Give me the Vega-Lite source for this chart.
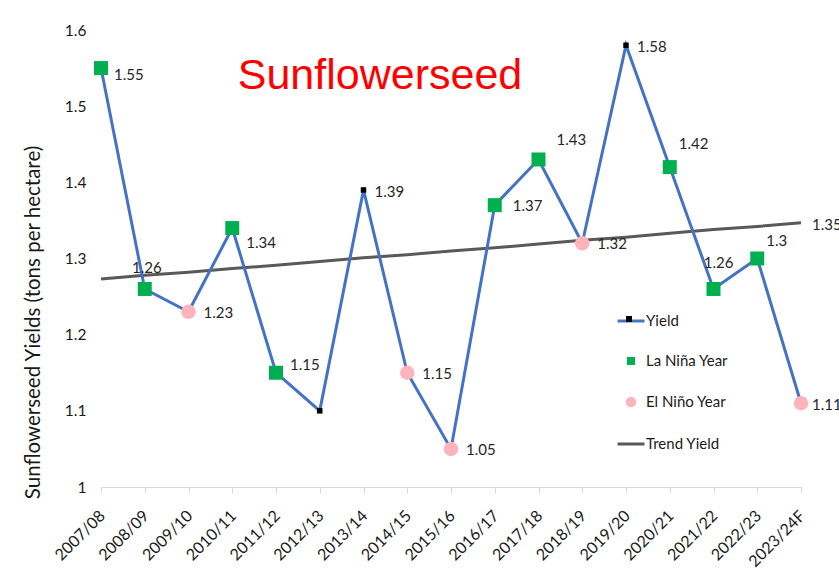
{
  "$schema": "https://vega.github.io/schema/vega-lite/v6.json",
  "width": 700,
  "height": 457,
  "autosize": {"type": "none"},
  "padding": {"left": 101, "top": 30, "right": 38, "bottom": 85},
  "background": "white",
  "config": {
    "view": {"stroke": null},
    "font": "Lato"
  },
  "title": {
    "text": "Sunflowerseed",
    "font": "Liberation Sans",
    "fontSize": 43,
    "fontWeight": "normal",
    "color": "#FF0000",
    "anchor": "middle",
    "frame": "group",
    "baseline": "alphabetic",
    "offset": 0,
    "dx": -71,
    "dy": 109
  },
  "data": {
    "values": [
      {"year": "2007/08", "yield": 1.55, "trend": 1.273, "enso": "La Niña Year"},
      {"year": "2008/09", "yield": 1.26, "trend": 1.278, "enso": "La Niña Year"},
      {"year": "2009/10", "yield": 1.23, "trend": 1.282, "enso": "El Niño Year"},
      {"year": "2010/11", "yield": 1.34, "trend": 1.287, "enso": "La Niña Year"},
      {"year": "2011/12", "yield": 1.15, "trend": 1.291, "enso": "La Niña Year"},
      {"year": "2012/13", "yield": 1.10, "trend": 1.296, "enso": "Neutral"},
      {"year": "2013/14", "yield": 1.39, "trend": 1.301, "enso": "Neutral"},
      {"year": "2014/15", "yield": 1.15, "trend": 1.305, "enso": "El Niño Year"},
      {"year": "2015/16", "yield": 1.05, "trend": 1.310, "enso": "El Niño Year"},
      {"year": "2016/17", "yield": 1.37, "trend": 1.314, "enso": "La Niña Year"},
      {"year": "2017/18", "yield": 1.43, "trend": 1.319, "enso": "La Niña Year"},
      {"year": "2018/19", "yield": 1.32, "trend": 1.324, "enso": "El Niño Year"},
      {"year": "2019/20", "yield": 1.58, "trend": 1.328, "enso": "Neutral"},
      {"year": "2020/21", "yield": 1.42, "trend": 1.333, "enso": "La Niña Year"},
      {"year": "2021/22", "yield": 1.26, "trend": 1.338, "enso": "La Niña Year"},
      {"year": "2022/23", "yield": 1.30, "trend": 1.342, "enso": "La Niña Year"},
      {"year": "2023/24F", "yield": 1.11, "trend": 1.347, "enso": "El Niño Year"}
    ]
  },
  "encoding": {
    "x": {
      "field": "year",
      "type": "ordinal",
      "scale": {
        "type": "point",
        "padding": 0,
        "domain": ["2007/08", "2008/09", "2009/10", "2010/11", "2011/12", "2012/13", "2013/14", "2014/15", "2015/16", "2016/17", "2017/18", "2018/19", "2019/20", "2020/21", "2021/22", "2022/23", "2023/24F"]
      },
      "axis": {
        "title": null,
        "labelAngle": -45,
        "labelAlign": "right",
        "labelBaseline": "middle",
        "labelFont": "Lato",
        "labelFontSize": 16,
        "labelColor": "#1a1a1a",
        "labelPadding": 20,
        "labelOffset": 1,
        "tickColor": "#D9D9D9",
        "tickSize": 6,
        "domainColor": "#D9D9D9",
        "domainWidth": 1,
        "grid": false
      }
    }
  },
  "layer": [
    {
      "mark": {"type": "rule", "color": "white", "strokeWidth": 3},
      "encoding": {
        "x": {"datum": "2009/10"},
        "x2": {"datum": "2017/18"},
        "y": {"datum": 1.5, "type": "quantitative"}
      }
    },
    {
      "mark": {"type": "line", "strokeWidth": 3},
      "encoding": {
        "y": {
          "field": "trend",
          "type": "quantitative",
          "scale": {"domain": [1, 1.6], "nice": false, "zero": false},
          "axis": {
            "title": "Sunflowerseed Yields (tons per hectare)",
            "titleFont": "Lato",
            "titleFontSize": 20.5,
            "titleFontWeight": "normal",
            "titleColor": "#1a1a1a",
            "titleX": -68,
            "titleY": 292,
            "titleAngle": -90,
            "titleAlign": "center",
            "titleBaseline": "middle",
            "values": [1, 1.1, 1.2, 1.3, 1.4, 1.5, 1.6],
            "format": ".2~f",
            "labelFont": "Lato",
            "labelFontSize": 15.5,
            "labelColor": "#1a1a1a",
            "labelPadding": 15,
            "ticks": false,
            "domain": false,
            "gridColor": "#D9D9D9",
            "gridWidth": 1
          }
        },
        "color": {
          "datum": "Trend Yield",
          "type": "nominal",
          "title": null,
          "scale": {
            "domain": ["Yield", "La Niña Year", "El Niño Year", "Trend Yield"],
            "range": ["#4472C4", "#00B050", "#FFB3BA", "#595959"]
          },
          "legend": {
            "orient": "none",
            "legendX": 515,
            "legendY": 276,
            "title": null,
            "symbolSize": 729,
            "rowPadding": 17,
            "labelFont": "Lato",
            "labelFontSize": 15,
            "labelColor": "#1a1a1a",
            "labelOffset": 0,
            "symbolStrokeWidth": 3,
            "symbolOpacity": 1,
            "encode": {
              "symbols": {
                "update": {
                  "shape": {"signal": "datum.value === 'La Niña Year' ? 'M-0.19,-0.19H0.19V0.19H-0.19Z' : datum.value === 'El Niño Year' ? 'M0.28,0A0.28,0.28 0 1,1 -0.28,0A0.28,0.28 0 1,1 0.28,0Z' : 'M-1,0H1'"},
                  "fill": {"signal": "datum.value === 'La Niña Year' ? '#00B050' : datum.value === 'El Niño Year' ? '#FFB3BA' : 'transparent'"},
                  "stroke": {"signal": "datum.value === 'Yield' ? '#4472C4' : datum.value === 'Trend Yield' ? '#595959' : 'transparent'"},
                  "strokeWidth": {"value": 3},
                  "opacity": {"value": 1}
                }
              }
            }
          }
        }
      }
    },
    {
      "mark": {"type": "line", "strokeWidth": 3},
      "encoding": {
        "y": {"field": "yield", "type": "quantitative"},
        "color": {"datum": "Yield", "type": "nominal", "title": null}
      }
    },
    {
      "mark": {"type": "point", "filled": true, "opacity": 1, "size": 30, "color": "#000000"},
      "encoding": {
        "y": {"field": "yield", "type": "quantitative"},
        "shape": {
          "datum": "Yield",
          "type": "nominal",
          "title": null,
          "scale": {"domain": ["Yield"], "range": ["square"]},
          "legend": {
            "orient": "none",
            "legendX": 525,
            "legendY": 286,
            "title": null,
            "symbolSize": 36,
            "symbolFillColor": "#000000",
            "symbolStrokeWidth": 0,
            "symbolOpacity": 1,
            "labelExpr": "''",
            "labelFontSize": 4
          }
        }
      }
    },
    {
      "transform": [{"filter": "datum.enso === 'La Niña Year'"}],
      "mark": {"type": "point", "shape": "square", "filled": true, "opacity": 1, "size": 196},
      "encoding": {
        "y": {"field": "yield", "type": "quantitative"},
        "color": {"field": "enso", "type": "nominal", "title": null}
      }
    },
    {
      "transform": [{"filter": "datum.enso === 'El Niño Year'"}],
      "mark": {"type": "point", "shape": "circle", "filled": true, "opacity": 1, "size": 210},
      "encoding": {
        "y": {"field": "yield", "type": "quantitative"},
        "color": {"field": "enso", "type": "nominal", "title": null}
      }
    },
    {
      "transform": [{"filter": {"field": "year", "oneOf": ["2013/14", "2019/20", "2023/24F"]}}],
      "mark": {"type": "text", "align": "left", "baseline": "middle", "dx": 11, "dy": 2, "font": "Lato", "fontSize": 15, "color": "#262626"},
      "encoding": {"y": {"field": "yield", "type": "quantitative"}, "text": {"field": "yield", "type": "quantitative", "format": ".2~f"}}
    },
    {
      "transform": [{"filter": {"field": "year", "oneOf": ["2009/10", "2014/15", "2015/16", "2018/19"]}}],
      "mark": {"type": "text", "align": "left", "baseline": "middle", "dx": 15, "dy": 1, "font": "Lato", "fontSize": 15, "color": "#262626"},
      "encoding": {"y": {"field": "yield", "type": "quantitative"}, "text": {"field": "yield", "type": "quantitative", "format": ".2~f"}}
    },
    {
      "transform": [{"filter": {"field": "year", "oneOf": ["2016/17"]}}],
      "mark": {"type": "text", "align": "left", "baseline": "middle", "dx": 18, "dy": 1, "font": "Lato", "fontSize": 15, "color": "#262626"},
      "encoding": {"y": {"field": "yield", "type": "quantitative"}, "text": {"field": "yield", "type": "quantitative", "format": ".2~f"}}
    },
    {
      "transform": [{"filter": {"field": "year", "oneOf": ["2007/08"]}}],
      "mark": {"type": "text", "align": "left", "baseline": "middle", "dx": 13, "dy": 7, "font": "Lato", "fontSize": 15, "color": "#262626"},
      "encoding": {"y": {"field": "yield", "type": "quantitative"}, "text": {"field": "yield", "type": "quantitative", "format": ".2~f"}}
    },
    {
      "transform": [{"filter": {"field": "year", "oneOf": ["2010/11"]}}],
      "mark": {"type": "text", "align": "left", "baseline": "middle", "dx": 14, "dy": 15, "font": "Lato", "fontSize": 15, "color": "#262626"},
      "encoding": {"y": {"field": "yield", "type": "quantitative"}, "text": {"field": "yield", "type": "quantitative", "format": ".2~f"}}
    },
    {
      "transform": [{"filter": {"field": "year", "oneOf": ["2011/12"]}}],
      "mark": {"type": "text", "align": "left", "baseline": "middle", "dx": 14, "dy": -8, "font": "Lato", "fontSize": 15, "color": "#262626"},
      "encoding": {"y": {"field": "yield", "type": "quantitative"}, "text": {"field": "yield", "type": "quantitative", "format": ".2~f"}}
    },
    {
      "transform": [{"filter": {"field": "year", "oneOf": ["2017/18"]}}],
      "mark": {"type": "text", "align": "left", "baseline": "middle", "dx": 18, "dy": -19, "font": "Lato", "fontSize": 15, "color": "#262626"},
      "encoding": {"y": {"field": "yield", "type": "quantitative"}, "text": {"field": "yield", "type": "quantitative", "format": ".2~f"}}
    },
    {
      "transform": [{"filter": {"field": "year", "oneOf": ["2020/21"]}}],
      "mark": {"type": "text", "align": "left", "baseline": "middle", "dx": 9, "dy": -23, "font": "Lato", "fontSize": 15, "color": "#262626"},
      "encoding": {"y": {"field": "yield", "type": "quantitative"}, "text": {"field": "yield", "type": "quantitative", "format": ".2~f"}}
    },
    {
      "transform": [{"filter": {"field": "year", "oneOf": ["2022/23"]}}],
      "mark": {"type": "text", "align": "left", "baseline": "middle", "dx": 9, "dy": -18, "font": "Lato", "fontSize": 15, "color": "#262626"},
      "encoding": {"y": {"field": "yield", "type": "quantitative"}, "text": {"field": "yield", "type": "quantitative", "format": ".2~f"}}
    },
    {
      "transform": [{"filter": {"field": "year", "oneOf": ["2008/09"]}}],
      "mark": {"type": "text", "align": "center", "baseline": "middle", "dx": 2, "dy": -21, "font": "Lato", "fontSize": 15, "color": "#262626"},
      "encoding": {"y": {"field": "yield", "type": "quantitative"}, "text": {"field": "yield", "type": "quantitative", "format": ".2~f"}}
    },
    {
      "transform": [{"filter": {"field": "year", "oneOf": ["2021/22"]}}],
      "mark": {"type": "text", "align": "center", "baseline": "middle", "dx": 5, "dy": -26, "font": "Lato", "fontSize": 15, "color": "#262626"},
      "encoding": {"y": {"field": "yield", "type": "quantitative"}, "text": {"field": "yield", "type": "quantitative", "format": ".2~f"}}
    },
    {
      "transform": [{"filter": {"field": "year", "oneOf": ["2023/24F"]}}],
      "mark": {"type": "text", "align": "left", "baseline": "middle", "dx": 11, "dy": 2, "font": "Lato", "fontSize": 15, "color": "#262626"},
      "encoding": {"y": {"field": "trend", "type": "quantitative"}, "text": {"field": "trend", "type": "quantitative", "format": ".2f"}}
    }
  ]
}
